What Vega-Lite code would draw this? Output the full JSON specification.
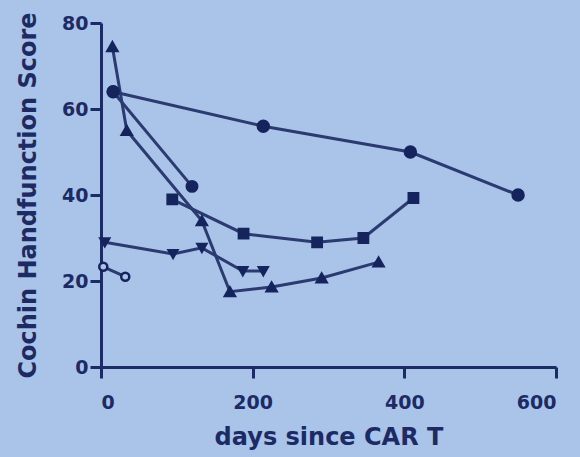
{
  "$schema": "https://vega.github.io/schema/vega-lite/v6.json",
  "autosize": {"type": "none"},
  "width": 455,
  "height": 344,
  "padding": {"left": 101, "top": 23, "right": 24, "bottom": 90},
  "background": "#a9c4e8",
  "config": {
    "view": {"stroke": null},
    "font": "DejaVu Sans",
    "axis": {
      "grid": false,
      "domainColor": "#1c2b66",
      "domainWidth": 3,
      "tickColor": "#1c2b66",
      "tickWidth": 3,
      "tickSize": 11,
      "labelColor": "#1c2b66",
      "labelFont": "DejaVu Sans",
      "labelFontWeight": "bold",
      "labelFontSize": 19,
      "titleColor": "#1c2b66",
      "titleFont": "DejaVu Sans",
      "titleFontWeight": "bold",
      "titleFontSize": 24
    }
  },
  "data": {
    "values": [
      {"series": "A", "days": 16, "score": 64},
      {"series": "A", "days": 214, "score": 56},
      {"series": "A", "days": 408, "score": 50},
      {"series": "A", "days": 550, "score": 40},
      {"series": "B", "days": 16, "score": 64},
      {"series": "B", "days": 120, "score": 42},
      {"series": "C", "days": 15, "score": 74.5},
      {"series": "C", "days": 34, "score": 55},
      {"series": "C", "days": 133, "score": 34},
      {"series": "C", "days": 170, "score": 17.5},
      {"series": "C", "days": 225, "score": 18.6},
      {"series": "C", "days": 291, "score": 20.7},
      {"series": "C", "days": 366, "score": 24.4},
      {"series": "D", "days": 94, "score": 39},
      {"series": "D", "days": 188, "score": 31},
      {"series": "D", "days": 285, "score": 29},
      {"series": "D", "days": 346, "score": 30},
      {"series": "D", "days": 412, "score": 39.3},
      {"series": "E", "days": 5, "score": 29},
      {"series": "E", "days": 95, "score": 26.3},
      {"series": "E", "days": 133, "score": 27.7},
      {"series": "E", "days": 187, "score": 22.3},
      {"series": "E", "days": 214, "score": 22.3},
      {"series": "F", "days": 3, "score": 23.3},
      {"series": "F", "days": 32, "score": 21}
    ]
  },
  "encoding": {
    "x": {
      "field": "days", "type": "quantitative",
      "scale": {"domain": [0, 600], "nice": false, "zero": true},
      "axis": {"values": [0, 200, 400, 600], "title": "days since CAR T", "titlePadding": 13, "labelPadding": 15}
    },
    "y": {
      "field": "score", "type": "quantitative",
      "scale": {"domain": [0, 80], "nice": false},
      "axis": {"values": [0, 20, 40, 60, 80], "title": "Cochin Handfunction Score", "titlePadding": 21, "labelPadding": 2}
    }
  },
  "layer": [
    {
      "mark": {"type": "line", "strokeWidth": 3, "color": "#2b3a70"},
      "encoding": {"detail": {"field": "series"}, "order": {"field": "days"}}
    },
    {
      "mark": {"type": "point", "strokeWidth": 2.5, "opacity": 1, "filled": false},
      "encoding": {
        "shape": {
          "field": "series", "type": "nominal", "legend": null,
          "scale": {"domain": ["A", "B", "C", "D", "E", "F"], "range": ["circle", "circle", "triangle-up", "square", "triangle-down", "circle"]}
        },
        "fill": {
          "field": "series", "type": "nominal", "legend": null,
          "scale": {"domain": ["A", "B", "C", "D", "E", "F"], "range": ["#16245e", "#16245e", "#16245e", "#16245e", "#16245e", "#a9c4e8"]}
        },
        "stroke": {"value": "#16245e"},
        "size": {
          "field": "series", "type": "nominal", "legend": null,
          "scale": {"domain": ["A", "B", "C", "D", "E", "F"], "range": [120, 65, 100, 140, 100, 85]}
        }
      }
    }
  ]
}
